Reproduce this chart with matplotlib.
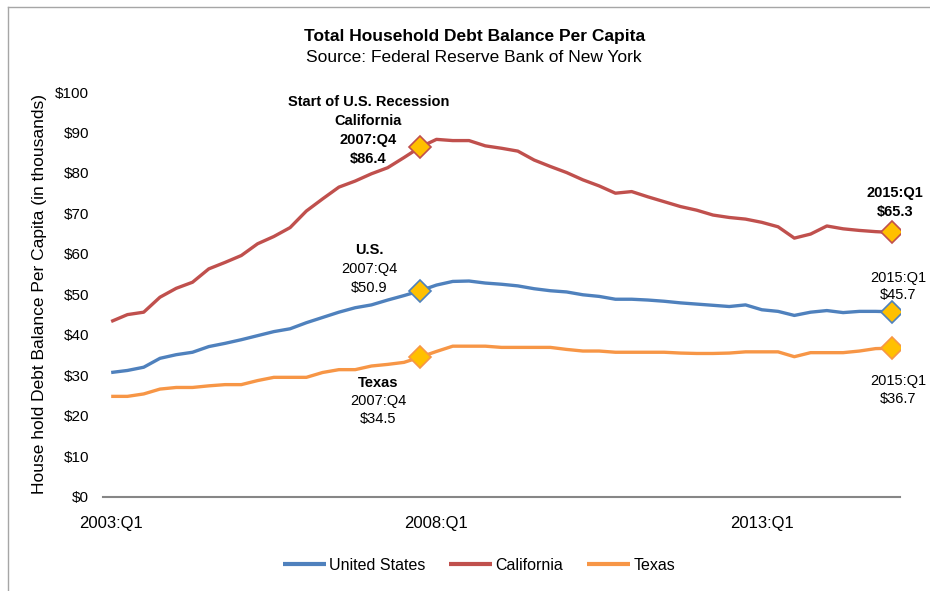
"""
Total household debt balance per capita: U.S., California and Texas,
quarterly 2003:Q1 to 2015:Q1.
"""
import matplotlib
matplotlib.use("Agg")
import matplotlib.pyplot as plt
from matplotlib.lines import Line2D

plt.rcParams['font.family'] = ['Liberation Sans', 'DejaVu Sans']
NARROW = ['Liberation Sans Narrow', 'Liberation Sans']

# quarterly balances in thousands of dollars, 2003:Q1 .. 2015:Q1
quarters = [f"{y}:Q{q}" for y in range(2003, 2016) for q in range(1, 5)][:49]

us = [30.7, 31.2, 32.0, 34.2, 35.1, 35.7, 37.1, 37.9, 38.8, 39.8,
      40.8, 41.5, 43.0, 44.3, 45.6, 46.7, 47.4, 48.6, 49.7, 50.9,
      52.3, 53.2, 53.3, 52.8, 52.5, 52.1, 51.4, 50.9, 50.6, 49.9,
      49.5, 48.8, 48.8, 48.6, 48.3, 47.9, 47.6, 47.3, 47.0, 47.4,
      46.2, 45.8, 44.8, 45.6, 46.0, 45.5, 45.8, 45.8, 45.7]
california = [43.3, 45.0, 45.6, 49.3, 51.5, 53.0, 56.3, 57.9, 59.6, 62.5,
              64.3, 66.5, 70.6, 73.6, 76.5, 78.0, 79.8, 81.3, 83.8, 86.4,
              88.3, 88.0, 88.0, 86.7, 86.1, 85.4, 83.2, 81.6, 80.1, 78.3,
              76.8, 75.0, 75.4, 74.1, 72.9, 71.7, 70.8, 69.6, 69.0, 68.6,
              67.8, 66.7, 63.9, 64.9, 66.9, 66.2, 65.8, 65.5, 65.3]
texas = [24.8, 24.8, 25.4, 26.6, 27.0, 27.0, 27.4, 27.7, 27.7, 28.7,
         29.5, 29.5, 29.5, 30.7, 31.4, 31.4, 32.3, 32.7, 33.2, 34.5,
         35.9, 37.2, 37.2, 37.2, 36.9, 36.9, 36.9, 36.9, 36.4, 36.0,
         36.0, 35.7, 35.7, 35.7, 35.7, 35.5, 35.4, 35.4, 35.5, 35.8,
         35.8, 35.8, 34.6, 35.6, 35.6, 35.6, 36.0, 36.6, 36.7]

series_names = ["United States", "California", "Texas"]
series_colors = ["#4F81BD", "#C0504D", "#F79646"]
tick_labels = ["2003:Q1", "2008:Q1", "2013:Q1"]
y_ticks = list(range(0, 101, 10))

peak_q = "2007:Q4"
last_q = "2015:Q1"

fig = plt.figure(figsize=(9.3, 5.91), dpi=100)
ax = fig.add_axes([0.1108, 0.1595, 0.8570, 0.6848])

# light frame of the chart area (cropped at right and bottom)
fx, fy = 7.5 / 930, 1 - 6.5 / 591
fig.lines.append(Line2D([fx, fx], [0, fy], transform=fig.transFigure,
                        color="#A6A6A6", linewidth=1.0))
fig.lines.append(Line2D([fx, 1], [fy, fy], transform=fig.transFigure,
                        color="#A6A6A6", linewidth=1.0))

x = list(range(len(quarters)))
i_peak = quarters.index(peak_q)
i_last = quarters.index(last_q)

for name, vals, color in zip(series_names, [us, california, texas], series_colors):
    ax.plot(x, vals, color=color, linewidth=2.4, label=name,
            solid_capstyle='butt', zorder=3)
    ax.plot([i_peak, i_last], [vals[i_peak], vals[i_last]], linestyle='none',
            marker='D', markersize=11, markerfacecolor='#FFC000',
            markeredgecolor=color, markeredgewidth=1.2, zorder=4)

ax.set_xlim(-0.5, len(quarters) - 0.5)
ax.set_ylim(0, 100)
ax.set_yticks(y_ticks)
ax.set_yticklabels([f"${v}" for v in y_ticks], fontsize=11)
ax.set_xticks([quarters.index(t) for t in tick_labels])
ax.set_xticklabels(tick_labels, fontsize=12, family=NARROW)
ax.tick_params(axis='both', length=0)
ax.tick_params(axis='x', pad=14)
ax.tick_params(axis='y', pad=10)
for s in ['top', 'right', 'left']:
    ax.spines[s].set_visible(False)
ax.spines['bottom'].set_color('#868686')
ax.spines['bottom'].set_linewidth(1.5)

ax.set_ylabel("House hold Debt Balance Per Capita (in thousands)", fontsize=12.5,
              labelpad=6)

fig.text(0.51, 0.938, "Total Household Debt Balance Per Capita",
         ha='center', va='center', fontsize=12.5, fontweight='bold')
fig.text(0.51, 0.902, "Source: Federal Reserve Bank of New York",
         ha='center', va='center', fontsize=12.5)


def label(xi, yv, lines, dx, dys, bold):
    # one text per line, offsets in pixels from the marked point
    for txt, dy, b in zip(lines, dys, bold):
        ax.annotate(txt, xy=(xi, yv), xytext=(dx * 0.72, -dy * 0.72),
                    textcoords='offset points', ha='center', va='center',
                    fontsize=10.5, fontweight='bold' if b else 'normal')


# callouts at 2007:Q4
label(i_peak, california[i_peak],
      ["Start of U.S. Recession", "California", peak_q, f"${california[i_peak]}"],
      -52, [-45, -26, -7, 12], [True] * 4)
label(i_peak, us[i_peak], ["U.S.", peak_q, f"${us[i_peak]}"],
      -51, [-41, -22, -3], [True, False, False])
label(i_peak, texas[i_peak], ["Texas", peak_q, f"${texas[i_peak]}"],
      -42, [26, 44, 62], [True, False, False])

# callouts at 2015:Q1
label(i_last, california[i_last], [last_q, f"${california[i_last]}"],
      3, [-39, -20], [True, True])
label(i_last, us[i_last], [last_q, f"${us[i_last]}"],
      6, [-34, -17], [False, False])
label(i_last, texas[i_last], [last_q, f"${texas[i_last]}"],
      6, [33, 51], [False, False])

leg = fig.legend(*ax.get_legend_handles_labels(), loc='center',
                 bbox_to_anchor=(0.515, 0.043), ncol=3, frameon=False,
                 handlelength=2.7, handletextpad=0.2, columnspacing=1.5,
                 prop={'family': NARROW, 'size': 11.5})
for line in leg.get_lines():
    line.set_linewidth(3)

fig.savefig("out.png", dpi=100)
